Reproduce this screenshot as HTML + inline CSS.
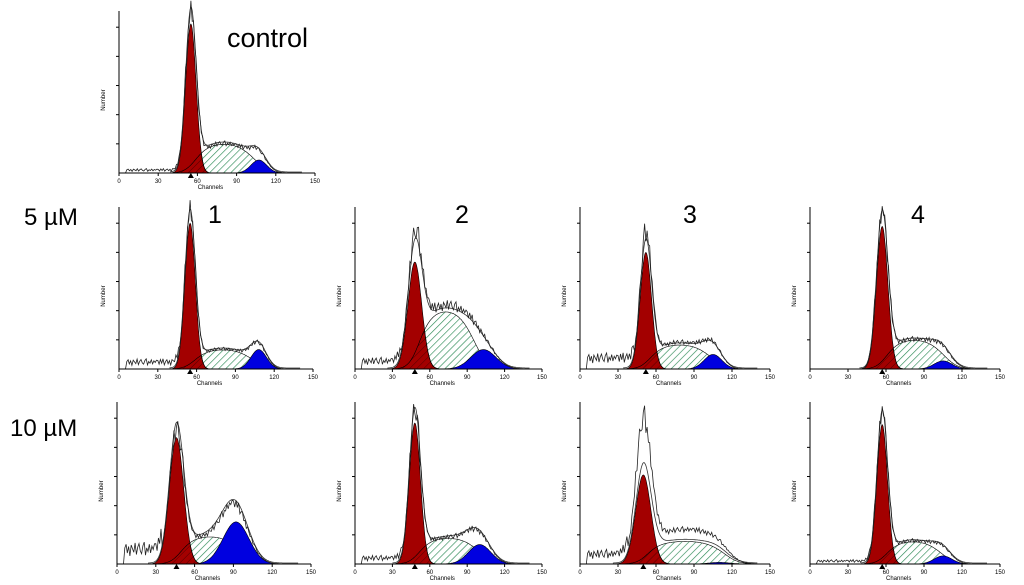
<!DOCTYPE html>
<html><head><meta charset="utf-8"><style>
body{margin:0;background:#fff;width:1024px;height:585px;overflow:hidden}
svg{display:block}
.lbl{font-family:"Liberation Sans",sans-serif;fill:#000}
</style></head><body>
<svg id="fig" width="1024" height="585" viewBox="0 0 1024 585" xmlns="http://www.w3.org/2000/svg">
<defs>
<pattern id="hg" patternUnits="userSpaceOnUse" width="5" height="5" patternTransform="rotate(45)"><rect width="5" height="5" fill="#fff"/><line x1="0" y1="0" x2="0" y2="5" stroke="#2e8b57" stroke-width="1.3"/></pattern>
<pattern id="hd" patternUnits="userSpaceOnUse" width="5" height="5" patternTransform="rotate(45)"><line x1="0" y1="0" x2="0" y2="5" stroke="#000" stroke-width="0.8" opacity="0.6"/></pattern>
</defs>
<text class="lbl" x="227" y="47" font-size="27">control</text>
<text class="lbl" x="24" y="225" font-size="24">5 µM</text>
<text class="lbl" x="10" y="436" font-size="24">10 µM</text>
<text class="lbl" x="208" y="223" font-size="25">1</text>
<text class="lbl" x="455" y="223" font-size="25">2</text>
<text class="lbl" x="683" y="223" font-size="25">3</text>
<text class="lbl" x="911" y="223" font-size="25">4</text>
</svg>
<script>
// panel names
const panelNames=["control","5uM-1","5uM-2","5uM-3","5uM-4","10uM-1","10uM-2","10uM-3","10uM-4"];
// G1 peak: mean channel, sd, height (fraction of axis)
const g1Mean=[55,55,48,52,57,46,48,50,57];
const g1Sd=[4,4,5.5,4.5,4.5,5.5,4.5,6,4.2];
const g1Height=[0.92,0.90,0.66,0.72,0.88,0.78,0.87,0.55,0.86];
// S phase plateau height
const sHeight=[0.18,0.12,0.36,0.15,0.18,0.17,0.16,0.14,0.14];
const sEnd=[106,106,98,106,108,98,102,116,106];
// G2 peak
const g2Mean=[107,108,103,105,105,92,100,110,105];
const g2Sd=[6,6,10,7,7,10,9,8,7];
const g2Height=[0.08,0.12,0.12,0.09,0.05,0.26,0.12,0.01,0.05];
// observed peak and debris level
const dataPeak=[1.0,0.98,0.85,0.85,0.97,0.82,0.95,0.9,0.94];
const debris=[0.03,0.07,0.08,0.11,0.0,0.15,0.06,0.10,0.03];
const noise=[0.05,-0.06,0.08,-0.03,0.1,-0.08,0.02,0.07,-0.05,0.04,-0.09,0.06,0.01,-0.04,0.09,-0.07,0.03,0.08,-0.02,-0.06,0.05,0.1,-0.08,0.02,-0.03,0.07,-0.05,0.04,-0.01,0.06];
const xTicks=[0,30,60,90,120,150];
// layout
const ox=[119,119,355,580,810,117,355,580,810];
const oy=[173,369,369,369,369,564,564,564,564];
const W=[196,194,187,190,190,194,187,190,190];
const H=162;
const svg=document.getElementById('fig');
const NS="http://www.w3.org/2000/svg";
function el(t,a,p){const e=document.createElementNS(NS,t);for(const k in a)e.setAttribute(k,a[k]);(p||svg).appendChild(e);return e;}
function sig(x){return 1/(1+Math.exp(-x));}
panelNames.forEach((nm,i)=>{
  const g=el('g',{});
  
  
  const X=c=>ox[i]+c/150*W[i], Y=v=>oy[i]-v*H;
  const G1=c=>g1Height[i]*Math.exp(-0.5*((c-g1Mean[i])/g1Sd[i])**2);
  const G2=c=>g2Height[i]*Math.exp(-0.5*((c-g2Mean[i])/g2Sd[i])**2);
  const a=g1Mean[i]+2, b=sEnd[i], mid=(a+b)/2, half=(b-a)/2;
  const S=c=>sHeight[i]*sig((c-a)/4.5)*sig((b-c)/6)*Math.max(0,1-0.25*((c-mid)/half)**2);
  const fit=c=>G1(c)+G2(c)+S(c);
  const cs=[];for(let c=g1Mean[i]-4*g1Sd[i];c<=140;c+=0.5)cs.push(c);
  const area=(f,col)=>{let d='M'+X(cs[0])+','+Y(0);cs.forEach(c=>d+='L'+X(c).toFixed(1)+','+Y(f(c)).toFixed(1));d+='L'+X(140)+','+Y(0)+'Z';return el('path',{d,fill:col,stroke:'#000','stroke-width':0.6},g);};
  const s=area(S,'url(#hg)');
  const bl=area(G2,'#0000e0');
  const r=area(G1,'#a30000');
  const ov=area(c=>Math.min(G1(c),S(c)),'url(#hd)');
  // fit envelope
  let d='';cs.forEach((c,k)=>d+=(k?'L':'M')+X(c).toFixed(1)+','+Y(fit(c)*1.05+0.006).toFixed(1));
  const fl=el('path',{d,fill:'none',stroke:'#333','stroke-width':0.8},g);
  // data histogram
  const scale=dataPeak[i]/Math.max(...cs.map(fit));
  d='';for(let c=5;c<=140;c++){let v=fit(c)*Math.max(scale,1);v=v*(1+noise[c%30]*0.9)+(c<g1Mean[i]-2*g1Sd[i]?debris[i]*(0.6+noise[c%30]*3):0);if(c<6)v=0;d+=(c>5?'L':'M')+X(c).toFixed(1)+','+Y(Math.max(0,v)).toFixed(1);}
  const dl=el('path',{d,fill:'none',stroke:'#222','stroke-width':0.8},g);
  // axes
  const ax=el('path',{d:`M${X(0)},${Y(1)}V${Y(0)}H${X(150)}`,fill:'none',stroke:'#000','stroke-width':1},g);
  
  xTicks.forEach(t=>{el('line',{x1:X(t),x2:X(t),y1:Y(0),y2:Y(0)+3,stroke:'#000'},g);
    const tx=el('text',{x:X(t),y:Y(0)+10,'font-size':6,'text-anchor':'middle',class:'lbl'},g);tx.textContent=t;
    });
  for(let k=1;k<=5;k++){el('line',{x1:X(0)-3,x2:X(0),y1:Y(k*0.18),y2:Y(k*0.18),stroke:'#000'},g);}
  const xl=el('text',{x:X(70),y:Y(0)+16,'font-size':6,'text-anchor':'middle',class:'lbl'},g);xl.textContent='Channels';
  
  const yl=el('text',{x:0,y:0,'font-size':6,'text-anchor':'middle',class:'lbl',transform:`translate(${X(0)-14},${Y(0.45)}) rotate(-90)`},g);yl.textContent='Number';
  
  const m=el('path',{d:`M${X(g1Mean[i])-3},${Y(0)+5}L${X(g1Mean[i])},${Y(0)}L${X(g1Mean[i])+3},${Y(0)+5}Z`,fill:'#000'},g);
  
});
</script>
</body></html>
